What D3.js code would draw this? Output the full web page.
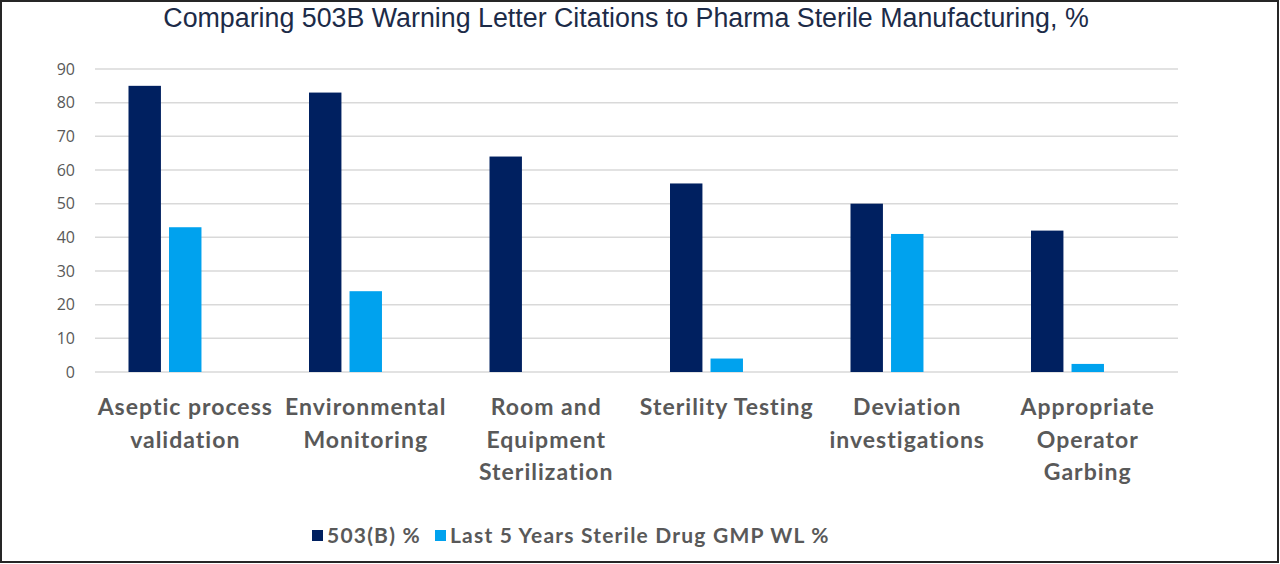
<!DOCTYPE html>
<html>
<head>
<meta charset="utf-8">
<script src="https://cdn.jsdelivr.net/npm/d3@7"></script>
<style>
  html, body { margin: 0; padding: 0; background: #fff; }
  svg { display: block; }
</style>
</head>
<body>
<svg id="chart"></svg>
<script>
// categories, pre-wrapped as in the original axis
const categories = [
    ["Aseptic process", "validation"],
    ["Environmental", "Monitoring"],
    ["Room and", "Equipment", "Sterilization"],
    ["Sterility Testing"],
    ["Deviation", "investigations"],
    ["Appropriate", "Operator", "Garbing"]
];
const seriesNames = ["503(B) %", "Last 5 Years Sterile Drug GMP WL %"];
const values503B = [85, 83, 64, 56, 50, 42];
const valuesLast5 = [43, 24, 0, 4, 41, 2.4];
const yTicks = [0, 10, 20, 30, 40, 50, 60, 70, 80, 90];
const colors = ["#002060", "#00A2EE"];

const width = 1280;
const height = 564;
const margin = {top: 69, right: 102, bottom: 192, left: 95};

const svg = d3.select("#chart")
    .attr("width", width)
    .attr("height", height);

// frame
svg.append("rect")
    .attr("x", 1).attr("y", 1)
    .attr("width", width - 3).attr("height", height - 3)
    .attr("fill", "#fff")
    .attr("stroke", "#262626")
    .attr("stroke-width", 2);

svg.append("text")
    .attr("x", 626)
    .attr("y", 27)
    .attr("text-anchor", "middle")
    .attr("font-family", "Liberation Sans, Arial, sans-serif")
    .attr("font-size", 26.8)
    .attr("fill", "#1C2B48")
    .text("Comparing 503B Warning Letter Citations to Pharma Sterile Manufacturing, %");

const chartWidth = width - margin.left - margin.right;
const chartHeight = height - margin.top - margin.bottom;

const g = svg.append("g")
    .attr("transform", `translate(${margin.left}, ${margin.top})`);

const xScale = d3.scaleBand()
    .domain(d3.range(categories.length))
    .range([0, chartWidth]);

// the source chart leaves room for a third (empty) series in each cluster
const inner = d3.scaleBand()
    .domain([0, 1, 2])
    .range([0, 113.5])
    .paddingInner(0.2);

const yScale = d3.scaleLinear()
    .domain([0, 90])
    .range([chartHeight, 0]);

// gridlines
g.append("g")
    .selectAll("line")
    .data(yTicks)
    .enter()
    .append("line")
    .attr("x1", 0)
    .attr("x2", chartWidth)
    .attr("y1", (d) => yScale(d))
    .attr("y2", (d) => yScale(d))
    .attr("stroke", "#D9D9D9")
    .attr("stroke-width", 1.5);

const yAxis = g.append("g")
    .call(d3.axisLeft(yScale).tickValues(yTicks).tickSize(0).tickPadding(20));
yAxis.select(".domain").remove();
yAxis.selectAll("text")
    .attr("font-family", "Open Sans, sans-serif")
    .attr("font-size", 16)
    .attr("fill", "#595959");

const series = [values503B, valuesLast5];
const groupOffset = (xScale.bandwidth() - 113.5) / 2;

series.forEach((vals, s) =>
{
    g.selectAll(".bar-" + s)
        .data(vals)
        .enter()
        .append("rect")
        .attr("x", (d, i) => xScale(i) + groupOffset + inner(s))
        .attr("y", (d) => yScale(d))
        .attr("width", inner.bandwidth())
        .attr("height", (d) => chartHeight - yScale(d))
        .attr("fill", colors[s]);
});

// category labels
const labels = g.append("g")
    .attr("transform", `translate(0, ${chartHeight})`)
    .selectAll("text")
    .data(categories)
    .enter()
    .append("text")
    .attr("x", (d, i) => xScale(i) + xScale.bandwidth() / 2)
    .attr("y", 43)
    .attr("text-anchor", "middle")
    .attr("font-family", "Lato, sans-serif")
    .attr("font-weight", "bold")
    .attr("font-size", 23)
    .attr("letter-spacing", 1)
    .attr("fill", "#595959");

labels.selectAll("tspan")
    .data((d) => d)
    .enter()
    .append("tspan")
    .attr("x", function ()
    {
        return d3.select(this.parentNode).attr("x");
    })
    .attr("dy", (d, i) => (i === 0 ? 0 : 32.5))
    .text((d) => d);

// legend
const legend = svg.append("g")
    .attr("transform", "translate(312, 535)");

const legendX = [0, 123];
legend.selectAll("rect")
    .data(seriesNames)
    .enter()
    .append("rect")
    .attr("x", (d, i) => legendX[i])
    .attr("y", -5)
    .attr("width", 11)
    .attr("height", 11)
    .attr("fill", (d, i) => colors[i]);

legend.selectAll("text")
    .data(seriesNames)
    .enter()
    .append("text")
    .attr("x", (d, i) => legendX[i] + 15)
    .attr("y", 8)
    .attr("font-family", "Lato, sans-serif")
    .attr("font-weight", "bold")
    .attr("font-size", 21)
    .attr("letter-spacing", 1.2)
    .attr("fill", "#595959")
    .text((d) => d);
</script>
</body>
</html>
